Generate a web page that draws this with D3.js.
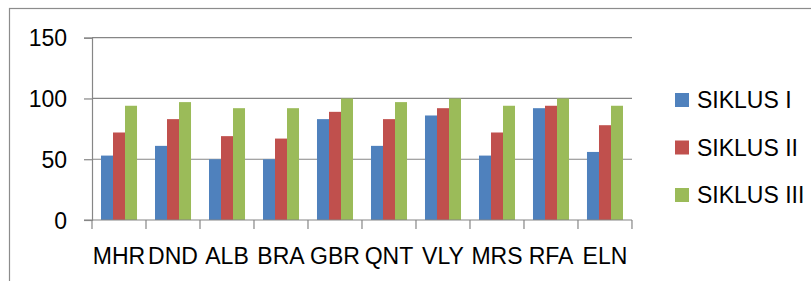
<!DOCTYPE html>
<html>
<head>
<meta charset="utf-8">
<script src="https://cdn.jsdelivr.net/npm/d3@7"></script>
<style>
  body { margin: 0; background: #fff; }
  text { font-family: "Liberation Sans", Arial, sans-serif; font-size: 23px; fill: #000; }
</style>
</head>
<body>
<div id="chart"></div>
<script>
// data
const categories = ["MHR", "DND", "ALB", "BRA", "GBR", "QNT", "VLY", "MRS", "RFA", "ELN"]
const seriesNames = ["SIKLUS I", "SIKLUS II", "SIKLUS III"]
const siklus1 = [53, 61, 50, 50, 83, 61, 86, 53, 92, 56]
const siklus2 = [72, 83, 69, 67, 89, 83, 92, 72, 94, 78]
const siklus3 = [94, 97, 92, 92, 100, 97, 100, 94, 100, 94]
const yTicks = [0, 50, 100, 150]
const colors = ["#4F81BD", "#C0504D", "#9BBB59"]

const series = [siklus1, siklus2, siklus3]

const width = 811, height = 281
const plot = {left: 92, right: 632, top: 37.7, bottom: 220}

const svg = d3.select("#chart").append("svg")
  .attr("width", width)
  .attr("height", height)

// outer chart border (right and bottom are outside the picture)
svg.append("rect")
  .attr("x", 9.5).attr("y", 8.5)
  .attr("width", 900).attr("height", 400)
  .attr("fill", "none")
  .attr("stroke", "#8c8c8c")
  .attr("stroke-width", 1.2)

const x = d3.scaleBand()
  .domain(categories)
  .range([plot.left, plot.right])
  .paddingInner(0.333)
  .paddingOuter(0.1667)

const xSub = d3.scaleBand()
  .domain(seriesNames)
  .range([0, x.bandwidth()])

const y = d3.scaleLinear()
  .domain([0, 150])
  .range([plot.bottom, plot.top])

// gridlines
svg.append("g")
  .selectAll("line")
  .data(yTicks.filter(d => d > 0))
  .join("line")
  .attr("x1", plot.left).attr("x2", plot.right)
  .attr("y1", d => y(d)).attr("y2", d => y(d))
  .attr("stroke", "#868686")
  .attr("stroke-width", 1.2)

// y axis
const yAxis = svg.append("g")
  .attr("transform", `translate(${plot.left},0)`)
  .call(d3.axisLeft(y).tickValues(yTicks).tickSize(8).tickPadding(17))
yAxis.select(".domain").attr("stroke", "#868686").attr("stroke-width", 1.2)
yAxis.selectAll(".tick line").attr("stroke", "#868686").attr("stroke-width", 1.2)
yAxis.selectAll("text").attr("font-size", 23).attr("font-family", null).attr("dy", "0.36em")

// bars
const groups = svg.append("g")
  .selectAll("g")
  .data(categories)
  .join("g")
  .attr("transform", d => `translate(${x(d)},0)`)

groups.selectAll("rect")
  .data((c, i) => series.map((s, k) => ({name: seriesNames[k], value: s[i], k: k})))
  .join("rect")
  .attr("x", d => xSub(d.name))
  .attr("width", xSub.bandwidth())
  .attr("y", d => y(d.value))
  .attr("height", d => y(0) - y(d.value))
  .attr("fill", d => colors[d.k])

// x axis, ticks between categories
const xEdges = d3.range(categories.length + 1).map(i => plot.left + i * x.step())
const xAxis = svg.append("g")
xAxis.append("line")
  .attr("x1", plot.left - 8).attr("x2", plot.right)
  .attr("y1", plot.bottom).attr("y2", plot.bottom)
  .attr("stroke", "#868686").attr("stroke-width", 1.2)
xAxis.selectAll(".xt")
  .data(xEdges)
  .join("line")
  .attr("class", "xt")
  .attr("x1", d => d).attr("x2", d => d)
  .attr("y1", plot.bottom).attr("y2", plot.bottom + 9)
  .attr("stroke", "#868686").attr("stroke-width", 1.2)
xAxis.selectAll("text")
  .data(categories)
  .join("text")
  .attr("x", d => x(d) + x.bandwidth() / 2)
  .attr("y", 264)
  .attr("text-anchor", "middle")
  .text(d => d)

// legend
const legend = svg.append("g")
  .selectAll("g")
  .data(seriesNames)
  .join("g")
  .attr("transform", (d, i) => `translate(675,${100 + i * 47.5})`)
legend.append("rect")
  .attr("x", 0).attr("y", -7)
  .attr("width", 14).attr("height", 14)
  .attr("fill", (d, i) => colors[i])
legend.append("text")
  .attr("x", 22)
  .attr("y", 8)
  .text(d => d)
</script>
</body>
</html>
